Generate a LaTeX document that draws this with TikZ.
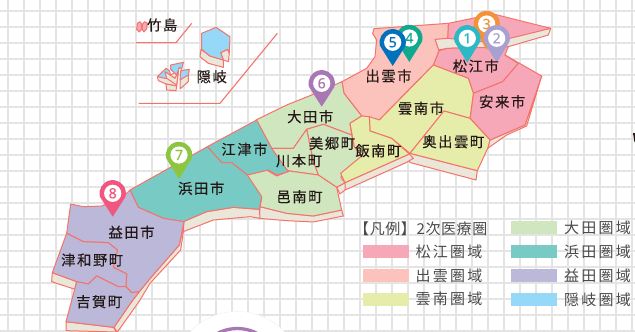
\documentclass[tikz,border=0pt]{standalone}
\usepackage{fontspec}
\newfontfamily\cjk[LetterSpace=11,FakeBold=0.25]{Noto Sans CJK JP}
\newfontfamily\cjkleg[LetterSpace=15]{Noto Sans CJK JP}
\newfontfamily\cjkhead[LetterSpace=4]{Noto Sans CJK JP}
\newfontfamily\pinfont[FakeBold=0.3]{Noto Sans}
\definecolor{coast}{HTML}{F4736A}
\definecolor{sidec}{HTML}{EBE6DA}
\definecolor{gridc}{HTML}{E4E4E4}
\definecolor{cMatsue}{HTML}{F7A8B8}
\definecolor{cIzumo}{HTML}{FBC3BC}
\definecolor{cUnnan}{HTML}{E6EDAB}
\definecolor{cOda}{HTML}{CFE6BF}
\definecolor{cHamada}{HTML}{78CBC4}
\definecolor{cMasuda}{HTML}{BBB8D9}
\definecolor{cOki}{HTML}{96D8F7}
\definecolor{txt}{HTML}{231815}
\definecolor{legt}{HTML}{4A4A4A}
\definecolor{pinA}{HTML}{2CB9C5}
\definecolor{pinB}{HTML}{A8A0D0}
\definecolor{pinC}{HTML}{F49239}
\definecolor{pinD}{HTML}{0EA98F}
\definecolor{pinE}{HTML}{0072BC}
\definecolor{pinF}{HTML}{A977B4}
\definecolor{pinG}{HTML}{8CC63F}
\definecolor{pinH}{HTML}{F0567F}
\tikzset{
 za/.style={shift={(320,0)},x=.33333pt,y=-.33333pt},
 zb/.style={shift={(120,0)},x=.33333pt,y=-.33333pt},
 zc/.style={shift={(40,170)},x=.33333pt,y=-.33333pt},
 zd/.style={shift={(240,90)},x=.33333pt,y=-.33333pt},
 ze/.style={shift={(130,10)},x=.33333pt,y=-.33333pt},
 side/.style={fill=sidec,draw=coast,line width=1pt,line join=round},
 land/.style={fill=#1,draw=coast,line width=1pt,line join=round},
 leader/.style={draw=coast,line width=1.1pt},
 gridline/.style={draw=gridc,line width=1.7pt},
 placename/.style={font=\cjk\fontsize{14.3}{15}\selectfont,text=txt,inner sep=0pt},
 headname/.style={font=\cjkhead\fontsize{15}{16}\selectfont,text=legt,inner sep=0pt,anchor=west},
 legname/.style={font=\cjkleg\fontsize{15}{16}\selectfont,text=legt,inner sep=0pt,anchor=west},
 swatch/.style={fill=#1,draw=none},
 pinnum/.style={font=\pinfont\fontsize{14}{15}\selectfont,inner sep=0pt},
}
% pin: x, y of centre, tip y, colour, number
\newcommand{\mappin}[5]{%
  \fill[#4] (#1-12.7,#2+3.5) arc[start angle=164.6,end angle=375.4,radius=13.2] -- (#1,#3) -- cycle;
  \fill[white] (#1,#2) circle[radius=8.6];
  \node[pinnum,text=#4] (pin#5) at (#1,#2) {#5};
}
\begin{document}
\begin{tikzpicture}[x=1pt,y=-1pt]
\useasboundingbox (0,0) rectangle (635,332);
\clip (0,0) rectangle (635,332);
\fill[white] (0,0) rectangle (635,332);
\foreach \k in {0,...,39} \draw[gridline] (7.7+16*\k,0) -- (7.7+16*\k,332);
\foreach \k in {0,...,20} \draw[gridline] (0,10.7+16*\k) -- (635,10.7+16*\k);
% circle at bottom
\fill[black!5] (237.3,376.2) circle[radius=65];
\fill[white] (237.3,375.7) circle[radius=64];
\draw[draw=pinF,line width=3.3pt] (237.3,371) circle[radius=42.5];
% leaders
\begin{scope}[zb]
\draw[leader] (48,128) -- (168,128) -- (215,70);
\draw[leader] (56,310) -- (300,310) -- (472,100);
\end{scope}
% sides
\begin{scope}[za]
\draw[side] (383,112) -- (345,118) -- (355,150) -- (383,145) -- (480,143) -- (565,140) -- (685,105) -- (692,85) -- cycle;
\draw[side] (615,375) -- (665,228) -- (620,378) -- (560,405) -- (503,445) -- (510,420) -- cycle;
\draw[side] (270,460) -- (472,512) -- (468,540) -- (272,488) -- (258,478) -- cycle;
\draw[side] (75,548) -- (268,462) -- (280,475) -- (258,488) -- (75,570) -- (65,550) -- cycle;
\end{scope}
\begin{scope}[zd]
\draw[side] (290,292) -- (315,278) -- (315,300) -- (300,312) -- cycle;
\draw[side] (60,350) -- (140,370) -- (220,378) -- (305,360) -- (310,378) -- (220,396) -- (140,392) -- (58,385) -- cycle;
\end{scope}
\begin{scope}[zb]
\draw[side] (190,665) -- (260,635) -- (340,622) -- (418,628) -- (420,655) -- (390,650) -- (280,660) -- (190,695) -- cycle;
\end{scope}
\begin{scope}[zc]
\draw[side] (432,155) -- (430,185) -- (422,240) -- (330,340) -- (297,395) -- (232,486) -- (222,472) -- (275,395) -- (298,365) -- (335,320) -- (418,225) -- cycle;
\draw[side] (37,308) -- (110,335) -- (105,358) -- (35,335) -- cycle;
\draw[side] (78,455) -- (220,472) -- (230,486) -- (78,482) -- cycle;
\end{scope}
% tops: east
\begin{scope}[za]
\draw[land=cMatsue] (385,70) -- (520,42) -- (692,85) -- (570,115) -- (480,125) -- (383,115) -- cycle;
\draw[land=cMatsue] (357,152) -- (383,145) -- (480,143) -- (565,140) -- (555,165) -- (595,190) -- (548,245) -- (460,280) -- (445,235) -- (340,195) -- cycle;
\draw[land=cMatsue] (555,165) -- (665,228) -- (615,375) -- (510,420) -- (450,355) -- (460,280) -- (548,245) -- (595,190) -- cycle;
\draw[land=cIzumo] (162,86) -- (385,70) -- (383,115) -- (345,118) -- (357,152) -- (340,195) -- (178,360) -- (125,348) -- (72,280) -- (66,245) -- (140,205) -- (165,170) -- (170,120) -- (158,100) -- cycle;
\draw[land=cUnnan] (340,195) -- (445,235) -- (460,280) -- (450,355) -- (372,333) -- (270,460) -- (215,415) -- (150,393) -- (148,350) -- (178,360) -- cycle;
\draw[land=cUnnan] (372,333) -- (450,355) -- (510,420) -- (503,445) -- (472,512) -- (270,460) -- cycle;
\end{scope}
\begin{scope}[zd]
\draw[land=cOda] (48,90) -- (140,45) -- (215,15) -- (306,-25) -- (312,10) -- (365,78) -- (330,100) -- (335,135) -- (250,103) -- (200,118) -- (160,175) -- (95,175) -- cycle;
\draw[land=cOda] (200,118) -- (250,103) -- (335,135) -- (343,170) -- (365,198) -- (302,262) -- (315,278) -- (290,292) -- (235,255) -- (220,215) -- cycle;
\draw[land=cOda] (95,175) -- (160,175) -- (200,118) -- (220,215) -- (235,255) -- (148,243) -- (118,230) -- cycle;
\draw[land=cOda] (20,255) -- (80,240) -- (110,258) -- (148,243) -- (235,255) -- (290,292) -- (305,360) -- (220,378) -- (140,370) -- (60,350) -- (65,325) -- cycle;
\end{scope}
\begin{scope}[za]
\draw[land=cUnnan] (125,348) -- (90,370) -- (103,440) -- (125,468) -- (62,520) -- (75,548) -- (268,462) -- (215,415) -- (150,393) -- (148,350) -- cycle;
\end{scope}
\begin{scope}[zb]
\draw[land=cHamada] (262,440) -- (410,360) -- (455,445) -- (505,515) -- (470,525) -- (445,510) -- (382,525) -- (335,488) -- (305,488) -- cycle;
\draw[land=cHamada] (30,570) -- (262,440) -- (305,488) -- (335,488) -- (382,525) -- (425,590) -- (418,628) -- (340,622) -- (260,635) -- (190,665) -- (130,655) -- (55,622) -- cycle;
\end{scope}
\begin{scope}[zc]
\draw[land=cMasuda] (270,60) -- (295,112) -- (370,145) -- (432,155) -- (418,225) -- (335,320) -- (298,365) -- (275,368) -- (258,350) -- (260,312) -- (220,292) -- (232,240) -- (205,218) -- (130,215) -- (80,190) -- (92,102) -- (130,110) -- (185,108) -- (245,85) -- cycle;
\draw[land=cMasuda] (80,190) -- (130,215) -- (205,218) -- (232,240) -- (220,292) -- (260,312) -- (258,350) -- (235,350) -- (170,318) -- (145,342) -- (110,335) -- (37,308) -- cycle;
\draw[land=cMasuda] (110,335) -- (145,342) -- (170,318) -- (235,350) -- (258,350) -- (275,368) -- (298,365) -- (275,395) -- (222,472) -- (78,455) -- cycle;
\end{scope}
% Oki
\begin{scope}[ze]
\draw[side] (213,118) -- (240,138) -- (280,150) -- (280,172) -- (235,160) -- (210,140) -- cycle;
\draw[side] (272,128) -- (293,118) -- (298,130) -- (295,155) -- (280,150) -- cycle;
\draw[land=cOki] (258,52) -- (300,80) -- (298,130) -- (293,118) -- (272,128) -- (280,150) -- (240,138) -- (215,118) -- (215,70) -- cycle;
\draw[side] (82,200) -- (85,212) -- (108,222) -- (140,228) -- (145,185) -- (120,195) -- cycle;
\draw[land=cOki] (82,200) -- (108,175) -- (118,182) -- (125,205) -- (105,205) -- cycle;
\draw[land=cOki] (122,165) -- (160,157) -- (155,178) -- (148,172) -- (140,195) -- (122,178) -- cycle;
\draw[side] (105,185) -- (120,195) -- (135,205) -- (145,185) -- (140,225) -- (125,215) -- (110,205) -- cycle;
\draw[side] (150,208) -- (175,192) -- (175,215) -- (150,237) -- cycle;
\draw[land=cOki] (152,182) -- (178,178) -- (175,195) -- (150,210) -- cycle;
\draw[side] (108,222) -- (140,228) -- (138,242) -- (110,240) -- cycle;
\end{scope}
% Takeshima
\begin{scope}[zb]
\draw[land=cMatsue] (52,70) -- (60,65) -- (65,72) -- (65,88) -- (58,96) -- (50,88) -- cycle;
\draw[land=cMatsue] (68,72) -- (74,65) -- (82,70) -- (80,86) -- (72,96) -- (66,88) -- cycle;
\end{scope}
% pins
\mappin{486.7}{24}{50}{pinC}{3}
\mappin{467.3}{38.3}{62.7}{pinA}{1}
\mappin{496.7}{38.3}{62.7}{pinB}{2}
\mappin{409.3}{38}{62}{pinD}{4}
\mappin{392.7}{42.3}{66}{pinE}{5}
\mappin{321.7}{83.3}{106.7}{pinF}{6}
\mappin{179}{155}{179}{pinG}{7}
\mappin{112.7}{193.3}{216.7}{pinH}{8}
% place names
\node[placename] (takeshima) at (162.3,25) {竹島};
\node[placename] (oki) at (211.7,76.7) {隠岐};
\node[placename] (oda) at (310.2,116.7) {大田市};
\node[placename] (misato) at (332,143.3) {美郷町};
\node[placename] (kawamoto) at (299,160.7) {川本町};
\node[placename] (iinan) at (378.3,150.7) {飯南町};
\node[placename] (unnan) at (421,108.3) {雲南市};
\node[placename] (okuizumo) at (453.3,141.7) {奥出雲町};
\node[placename] (yasugi) at (502.2,101.7) {安来市};
\node[placename] (matsue) at (475.8,66) {松江市};
\node[placename] (izumo) at (388.5,76) {出雲市};
\node[placename] (gotsu) at (244.5,149.3) {江津市};
\node[placename] (hamada) at (201.2,188.3) {浜田市};
\node[placename] (ohnan) at (299.5,196.7) {邑南町};
\node[placename] (masuda) at (131.5,232.3) {益田市};
\node[placename] (tsuwano) at (92.2,260) {津和野町};
\node[placename] (yoshika) at (99.2,301.7) {吉賀町};
% legend
\node[headname] (lhead) at (354,228.3) {【凡例】2次医療圏};
\fill[swatch=cMatsue] (363,245) rectangle (409,257.7);
\fill[swatch=cIzumo] (363,269) rectangle (409,281.7);
\fill[swatch=cUnnan] (363,293) rectangle (409,305.7);
\fill[swatch=cOda] (511,221) rectangle (557,233.7);
\fill[swatch=cHamada] (511,245) rectangle (557,257.7);
\fill[swatch=cMasuda] (511,269) rectangle (557,281.7);
\fill[swatch=cOki] (511,293) rectangle (557,305.7);
\node[legname] (l1) at (415.5,251.7) {松江圏域};
\node[legname] (l2) at (415.5,275.7) {出雲圏域};
\node[legname] (l3) at (415.5,299.3) {雲南圏域};
\node[legname] (l4) at (563.8,228.3) {大田圏域};
\node[legname] (l5) at (563.8,251.7) {浜田圏域};
\node[legname] (l6) at (563.8,275.7) {益田圏域};
\node[legname] (l7) at (563.8,299.3) {隠岐圏域};
% clipped glyph at right edge
\fill[txt] (633,133) -- (635,133) -- (635,142) -- (634.4,142) -- cycle;
\end{tikzpicture}
\end{document}
